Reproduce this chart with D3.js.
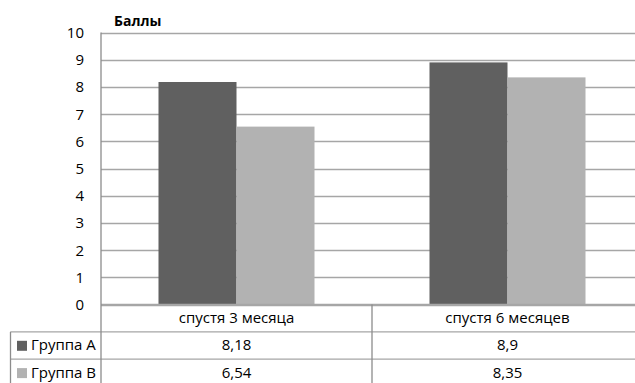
<!DOCTYPE html>
<html><head><meta charset="utf-8">
<script src="https://cdn.jsdelivr.net/npm/d3@7"></script>
<style>body{margin:0;background:#fff}svg{display:block}</style>
</head><body>
<svg id="chart" width="635" height="383"></svg>
<script>
// Average score per group at each follow-up point
const categories = ["спустя 3 месяца", "спустя 6 месяцев"];
const seriesNames = ["Группа А", "Группа В"];
const groupA = [8.18, 8.9];
const groupB = [6.54, 8.35];
const yTicks = [0, 1, 2, 3, 4, 5, 6, 7, 8, 9, 10];
const seriesColors = ["#606060", "#b2b2b2"];
const yTitle = "Баллы";

const FONT = "'Open Sans', 'Liberation Sans', sans-serif";
const FS = 15;
const svg = d3.select("#chart");

const plotLeft = 101, plotRight = 643, plotTop = 32.5, plotBottom = 304.5;
const rowH = 27.3;
const tableLeft = 10.5;

const y = d3.scaleLinear().domain([0, 10]).range([plotBottom, plotTop]);
const x0 = d3.scaleBand().domain(categories).range([plotLeft, plotRight]).padding(0);
const x1 = d3.scaleBand().domain(seriesNames).range([0, x0.bandwidth()])
  .paddingInner(0).paddingOuter(0.737);

const rows = seriesNames.map((name, i) => ({
  name, color: seriesColors[i], values: i === 0 ? groupA : groupB
}));

// Horizontal gridlines
svg.append("g").selectAll("line").data(yTicks).join("line")
  .attr("x1", plotLeft).attr("x2", 635)
  .attr("y1", d => Math.round(y(d)) + 0.5).attr("y2", d => Math.round(y(d)) + 0.5)
  .attr("stroke", "#a6a6a6").attr("stroke-width", 1.3);

// Bars
svg.append("g").selectAll("g").data(categories).join("g")
  .attr("transform", d => `translate(${x0(d)},0)`)
  .selectAll("rect")
  .data((c, ci) => rows.map(r => ({ name: r.name, color: r.color, v: r.values[ci] })))
  .join("rect")
  .attr("x", d => x1(d.name)).attr("width", x1.bandwidth())
  .attr("y", d => y(d.v)).attr("height", d => y(0) - y(d.v))
  .attr("fill", d => d.color);

// Y axis labels
svg.append("g").selectAll("text").data(yTicks).join("text")
  .attr("x", 84).attr("y", d => y(d) + 5.5)
  .attr("text-anchor", "end")
  .attr("font-family", FONT).attr("font-size", FS).attr("fill", "#000")
  .text(d => d);

// Axis title
svg.append("text").attr("x", 114).attr("y", 26)
  .attr("font-family", FONT).attr("font-size", 14).attr("font-weight", "bold")
  .text(yTitle);

// Data table lines
const lines = svg.append("g");
const rowY = [plotBottom, plotBottom + rowH, plotBottom + 2 * rowH];
lines.append("line").attr("x1", plotLeft).attr("x2", 635)
  .attr("y1", rowY[0]).attr("y2", rowY[0]).attr("stroke", "#a6a6a6").attr("stroke-width", 1.3);
[rowY[1], rowY[2]].forEach(yy => lines.append("line")
  .attr("x1", tableLeft).attr("x2", 635).attr("y1", yy).attr("y2", yy)
  .attr("stroke", "#a6a6a6").attr("stroke-width", 1.3));
// Value axis line running down through the table
lines.append("line").attr("x1", plotLeft).attr("x2", plotLeft)
  .attr("y1", plotTop).attr("y2", 383).attr("stroke", "#8c8c8c").attr("stroke-width", 1.3);
lines.append("line").attr("x1", tableLeft).attr("x2", tableLeft)
  .attr("y1", rowY[1]).attr("y2", 383).attr("stroke", "#8c8c8c").attr("stroke-width", 1.3);
categories.slice(1).forEach(c => lines.append("line")
  .attr("x1", x0(c)).attr("x2", x0(c)).attr("y1", rowY[0]).attr("y2", 383)
  .attr("stroke", "#8c8c8c").attr("stroke-width", 1.3));

// Category header row
svg.append("g").selectAll("text").data(categories).join("text")
  .attr("x", d => x0(d) + x0.bandwidth() / 2).attr("y", rowY[0] + rowH / 2 + 5)
  .attr("text-anchor", "middle").attr("font-family", FONT).attr("font-size", FS)
  .text(d => d);

// Value rows with legend keys
const fmt = v => String(v).replace(".", ",");
rows.forEach((r, i) => {
  const top = rowY[1] + i * rowH;
  svg.append("rect").attr("x", 17).attr("y", top + 9).attr("width", 10).attr("height", 10)
    .attr("fill", r.color);
  svg.append("text").attr("x", 31).attr("y", top + rowH / 2 + 5)
    .attr("font-family", FONT).attr("font-size", FS).text(r.name);
  svg.append("g").selectAll("text").data(categories).join("text")
    .attr("x", d => x0(d) + x0.bandwidth() / 2).attr("y", top + rowH / 2 + 5)
    .attr("text-anchor", "middle").attr("font-family", FONT).attr("font-size", FS)
    .text((d, ci) => fmt(r.values[ci]));
});
</script>
</body></html>
